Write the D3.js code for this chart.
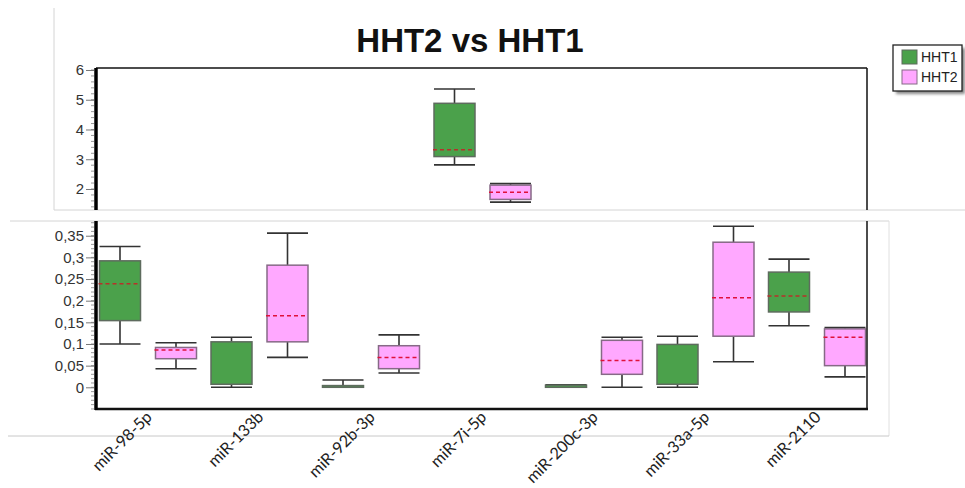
<!DOCTYPE html>
<html>
<head>
<meta charset="utf-8">
<script src="https://cdn.jsdelivr.net/npm/d3@7"></script>
<style>
  html, body { margin: 0; padding: 0; background: #fff; }
  svg { display: block; }
  text { font-family: Arial, "Liberation Sans", sans-serif; }
</style>
</head>
<body>
<svg id="chart" width="965" height="488"></svg>
<script>
// ---- data ----
const categories = ["miR-98-5p", "miR-133b", "miR-92b-3p", "miR-7i-5p", "miR-200c-3p", "miR-33a-5p", "miR-2110"];
const series = ["HHT1", "HHT2"];
// box statistics per category: [low whisker, Q1, median, Q3, high whisker]
const hht1Stats = [
  [0.100, 0.154, 0.239, 0.292, 0.325],
  [0.000, 0.007, null, 0.105, 0.1155],
  [0.000, 0.000, null, 0.004, 0.017],
  [2.81, 3.09, 3.32, 4.88, 5.36],
  [0.000, 0.000, null, 0.005, 0.006],
  [0.000, 0.007, null, 0.099, 0.118],
  [0.142, 0.174, 0.211, 0.266, 0.296]
];
const hht2Stats = [
  [0.043, 0.066, 0.086, 0.092, 0.103],
  [0.069, 0.105, 0.165, 0.282, 0.356],
  [0.033, 0.043, 0.069, 0.096, 0.121],
  [1.56, 1.65, 1.89, 2.13, 2.18],
  [0.000, 0.030, 0.062, 0.1085, 0.1155],
  [0.059, 0.118, 0.207, 0.335, 0.372],
  [0.024, 0.050, 0.1155, 0.135, 0.138]
];
const upperTicks = [2, 3, 4, 5, 6];
const lowerTicks = [0, 0.05, 0.1, 0.15, 0.2, 0.25, 0.3, 0.35];
const titleText = "HHT2 vs HHT1";

const fills = { HHT1: "#4ba14b", HHT2: "#ffa8ff" };
const strokes = { HHT1: "#5e6b5e", HHT2: "#866a86" };

const rows = [];
categories.forEach((c, i) => {
  rows.push({ cat: c, ser: "HHT1", s: hht1Stats[i] });
  rows.push({ cat: c, ser: "HHT2", s: hht2Stats[i] });
});

const svg = d3.select("#chart");
const comma = d3.formatLocale({ decimal: ",", thousands: ".", grouping: [3], currency: ["", ""] }).format(".2~f");

// ---- layout ----
const plotL = 96, plotR = 867;
const upTop = 68, upBot = 210;
const loTop = 221, loBot = 409;

const x = d3.scaleBand().domain(categories).range([plotL, plotL + 7 * 111.5]);
const xs = d3.scaleBand().domain(series).range([-4, 108]);
const boxW = 41;

const yUp = d3.scaleLinear().domain([1.294, 6.067]).range([upBot, upTop]);
const yLo = d3.scaleLinear().domain([-0.0501, 0.384]).range([loBot, loTop]);

// panel outlines (light frames)
svg.append("line").attr("x1", 54).attr("x2", 54).attr("y1", 8).attr("y2", 210).attr("stroke", "#d4d4d4");
svg.append("line").attr("x1", 54).attr("x2", 965).attr("y1", 210).attr("y2", 210).attr("stroke", "#d4d4d4");
svg.append("line").attr("x1", 10).attr("x2", 889).attr("y1", 221).attr("y2", 221).attr("stroke", "#d4d4d4");
svg.append("line").attr("x1", 889).attr("x2", 889).attr("y1", 221).attr("y2", 436).attr("stroke", "#e0e0e0");
svg.append("line").attr("x1", 8).attr("x2", 889).attr("y1", 436).attr("y2", 436).attr("stroke", "#c8c8c8");

// clip paths
const defs = svg.append("defs");
defs.append("clipPath").attr("id", "clipUp").append("rect")
  .attr("x", plotL).attr("y", upTop).attr("width", plotR - plotL).attr("height", upBot - upTop);
defs.append("clipPath").attr("id", "clipLo").append("rect")
  .attr("x", plotL).attr("y", loTop).attr("width", plotR - plotL).attr("height", loBot - loTop);
const f = defs.append("filter").attr("id", "shadow").attr("x", "-20%").attr("y", "-20%").attr("width", "150%").attr("height", "150%");
f.append("feGaussianBlur").attr("stdDeviation", 1.5);

function drawBoxes(g, y) {
  const b = g.selectAll("g.box").data(rows).join("g").attr("class", "box")
    .attr("transform", d => `translate(${x(d.cat) + xs(d.ser) + xs.bandwidth() / 2},0)`);
  // whiskers
  b.append("line").attr("x1", 0).attr("x2", 0)
    .attr("y1", d => y(d.s[4])).attr("y2", d => y(d.s[3]))
    .attr("stroke", "#333").attr("stroke-width", 1.6);
  b.append("line").attr("x1", 0).attr("x2", 0)
    .attr("y1", d => y(d.s[1])).attr("y2", d => y(d.s[0]))
    .attr("stroke", "#333").attr("stroke-width", 1.6);
  // caps
  b.append("line").attr("x1", -boxW / 2).attr("x2", boxW / 2)
    .attr("y1", d => y(d.s[4])).attr("y2", d => y(d.s[4]))
    .attr("stroke", "#333").attr("stroke-width", 1.6);
  b.append("line").attr("x1", -boxW / 2).attr("x2", boxW / 2)
    .attr("y1", d => y(d.s[0])).attr("y2", d => y(d.s[0]))
    .attr("stroke", "#333").attr("stroke-width", 1.6);
  // boxes
  b.append("rect").attr("x", -boxW / 2).attr("width", boxW)
    .attr("y", d => y(d.s[3])).attr("height", d => Math.max(0.5, y(d.s[1]) - y(d.s[3])))
    .attr("fill", d => fills[d.ser]).attr("stroke", d => strokes[d.ser]).attr("stroke-width", 1.5);
  // median
  b.filter(d => d.s[2] != null).append("line")
    .attr("x1", -boxW / 2 - 1).attr("x2", boxW / 2 - 1)
    .attr("y1", d => y(d.s[2])).attr("y2", d => y(d.s[2]))
    .attr("stroke", d => d.ser === "HHT1" ? "#b8302a" : "#e0103a")
    .attr("stroke-width", 1.5).attr("stroke-dasharray", "4,3");
}

drawBoxes(svg.append("g").attr("clip-path", "url(#clipUp)"), yUp);
drawBoxes(svg.append("g").attr("clip-path", "url(#clipLo)"), yLo);

// frames
svg.append("line").attr("x1", plotL).attr("x2", plotR).attr("y1", upTop).attr("y2", upTop).attr("stroke", "#111").attr("stroke-width", 1.5);
svg.append("line").attr("x1", plotR).attr("x2", plotR).attr("y1", upTop).attr("y2", upBot).attr("stroke", "#111").attr("stroke-width", 1.5);
svg.append("line").attr("x1", plotR).attr("x2", plotR).attr("y1", loTop).attr("y2", loBot).attr("stroke", "#111").attr("stroke-width", 1.5);
svg.append("line").attr("x1", plotL - 1).attr("x2", plotR + 1).attr("y1", loBot).attr("y2", loBot).attr("stroke", "#111").attr("stroke-width", 2.5);

// y axes with minor ticks
function yAxis(y, ticks, fmt, top, bot, minorStep) {
  const g = svg.append("g").attr("transform", `translate(${plotL - 2},0)`);
  const lo = Math.ceil(y.domain()[0] / minorStep), hi = Math.floor(y.domain()[1] / minorStep);
  g.selectAll("line.minor").data(d3.range(lo, hi + 1).map(k => k * minorStep)).join("line")
    .attr("class", "minor").attr("x1", -3).attr("x2", 0)
    .attr("y1", d => y(d)).attr("y2", d => y(d)).attr("stroke", "#999").attr("stroke-width", 1);
  const ax = d3.axisLeft(y).tickValues(ticks).tickFormat(fmt).tickSize(8).tickPadding(2);
  g.call(ax);
  g.select(".domain").remove();
  g.selectAll(".tick line").attr("stroke", "#777");
  g.selectAll(".tick text").attr("fill", "#333").style("font-size", "15px").style("font-family", "Arial, 'Liberation Sans', sans-serif");
  svg.append("line").attr("x1", plotL).attr("x2", plotL).attr("y1", top).attr("y2", bot)
    .attr("stroke", "#000").attr("stroke-width", 3.5);
}
yAxis(yUp, upperTicks, d => String(d), upTop, upBot, 0.2);
yAxis(yLo, lowerTicks, comma, loTop, loBot + 1, 0.01);

// category labels
const xl = svg.append("g");
xl.selectAll("text").data(categories).join("text")
  .attr("transform", c => `translate(${x(c) + 57},${418}) rotate(-45)`)
  .attr("text-anchor", "end")
  .style("font-family", "Lato, 'Open Sans', sans-serif")
  .style("font-size", "16.2px")
  .attr("fill", "#222")
  .text(c => c);

// title
svg.append("text").attr("x", 470).attr("y", 52).attr("text-anchor", "middle")
  .style("font-size", "33px").style("font-weight", "bold").attr("fill", "#111").text(titleText);

// legend
const lg = svg.append("g");
lg.append("rect").attr("x", 896).attr("y", 48).attr("width", 69).attr("height", 46)
  .attr("fill", "#888").attr("filter", "url(#shadow)");
lg.append("rect").attr("x", 893).attr("y", 45).attr("width", 69).attr("height", 46)
  .attr("fill", "#fff").attr("stroke", "#222").attr("stroke-width", 1.3);
series.forEach((s, i) => {
  lg.append("rect").attr("x", 902).attr("y", 50 + i * 20).attr("width", 15).attr("height", 14)
    .attr("fill", fills[s]).attr("stroke", strokes[s]).attr("stroke-width", 1);
  lg.append("text").attr("x", 921).attr("y", 62 + i * 20).style("font-size", "14px")
    .attr("fill", "#222").text(s);
});
</script>
</body>
</html>
